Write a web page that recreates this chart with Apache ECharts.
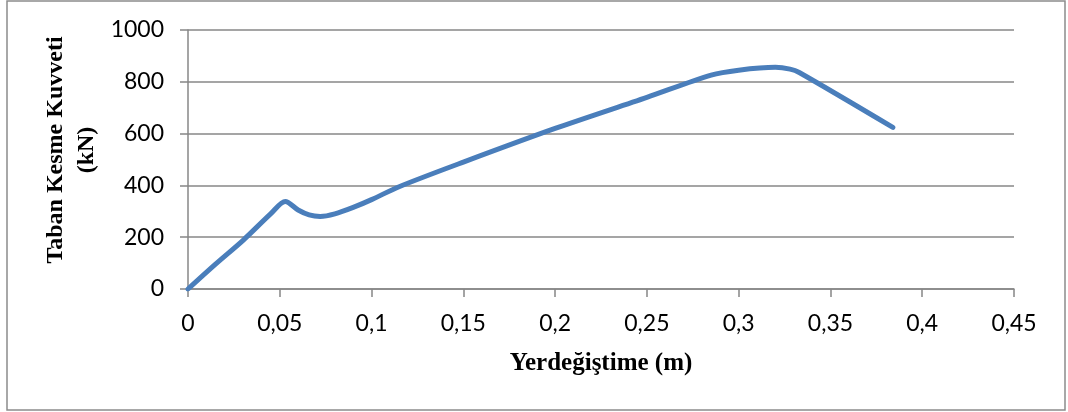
<!DOCTYPE html>
<html>
<head>
<meta charset="utf-8">
<title>Taban Kesme Kuvveti - Yerdeğiştime</title>
<script src="https://cdn.jsdelivr.net/npm/echarts@6/dist/echarts.min.js"></script>
<style>
  html, body { margin: 0; padding: 0; background: #fff; }
  #chart { width: 1068px; height: 412px; }
</style>
</head>
<body>
<div id="chart"></div>
<script>
// Displacement (m) and base shear (kN) of the pushover curve
const displacement = [0, 0.015, 0.03, 0.045, 0.053, 0.06, 0.066, 0.072, 0.08, 0.09, 0.1, 0.115, 0.15, 0.2, 0.25, 0.285, 0.3, 0.32, 0.328, 0.333, 0.384];
const baseShear    = [0, 96, 188, 290, 338, 305, 286, 280, 290, 315, 345, 395, 490, 620, 740, 826, 845, 856, 849, 836, 624];

// Axis ranges and titles
const xRange = { min: 0, max: 0.45, interval: 0.05 };
const yRange = { min: 0, max: 1000, interval: 200 };
const xTitle = 'Yerdeğiştime (m)';
const yTitle = 'Taban Kesme Kuvveti\n(kN)';

const points = displacement.map((x, i) => [x, baseShear[i]]);

const gridGray = '#878787';
const tickFont = 'Lato, "Open Sans", sans-serif';
const titleFont = '"Liberation Serif", "DejaVu Serif", serif';

const chart = echarts.init(document.getElementById('chart'), null, { renderer: 'canvas' });

chart.setOption({
  backgroundColor: '#ffffff',
  animation: false,
  grid: { left: 188, right: 54, top: 30, bottom: 123, containLabel: false },
  graphic: [
    {
      type: 'rect',
      shape: { x: 7, y: 1, width: 1058, height: 409 },
      style: { fill: 'none', stroke: '#8c8c8c', lineWidth: 1.5 },
      silent: true
    },
    {
      type: 'text',
      x: 601, y: 364,
      style: {
        text: xTitle,
        font: 'bold 25px ' + titleFont,
        fill: '#000',
        align: 'center',
        verticalAlign: 'middle'
      }
    },
    {
      type: 'text',
      x: 71, y: 150,
      rotation: Math.PI / 2,
      style: {
        text: yTitle,
        font: 'bold 24px ' + titleFont,
        lineHeight: 31,
        fill: '#000',
        align: 'center',
        verticalAlign: 'middle'
      }
    }
  ],
  xAxis: {
    type: 'value',
    min: xRange.min, max: xRange.max, interval: xRange.interval,
    axisLine: { show: true, lineStyle: { color: gridGray, width: 1.5 } },
    axisTick: { show: true, inside: false, length: 8, lineStyle: { color: gridGray, width: 1.5 } },
    splitLine: { show: false },
    axisLabel: {
      margin: 23,
      color: '#000',
      fontSize: 23,
      fontFamily: tickFont,
      formatter: v => String(Math.round(v * 100) / 100).replace('.', ',')
    }
  },
  yAxis: {
    type: 'value',
    min: yRange.min, max: yRange.max, interval: yRange.interval,
    axisLine: { show: true, lineStyle: { color: gridGray, width: 1.5 } },
    axisTick: { show: true, inside: false, length: 8, lineStyle: { color: gridGray, width: 1.5 } },
    splitLine: { show: true, lineStyle: { color: gridGray, width: 1.5 } },
    axisLabel: {
      margin: 24,
      color: '#000',
      fontSize: 23,
      fontFamily: tickFont,
      formatter: v => String(v)
    }
  },
  series: [{
    type: 'line',
    data: points,
    smooth: 0.3,
    showSymbol: false,
    symbol: 'none',
    lineStyle: { color: '#4a7ebb', width: 5, cap: 'round', join: 'round' },
    z: 3
  }]
});
</script>
</body>
</html>
